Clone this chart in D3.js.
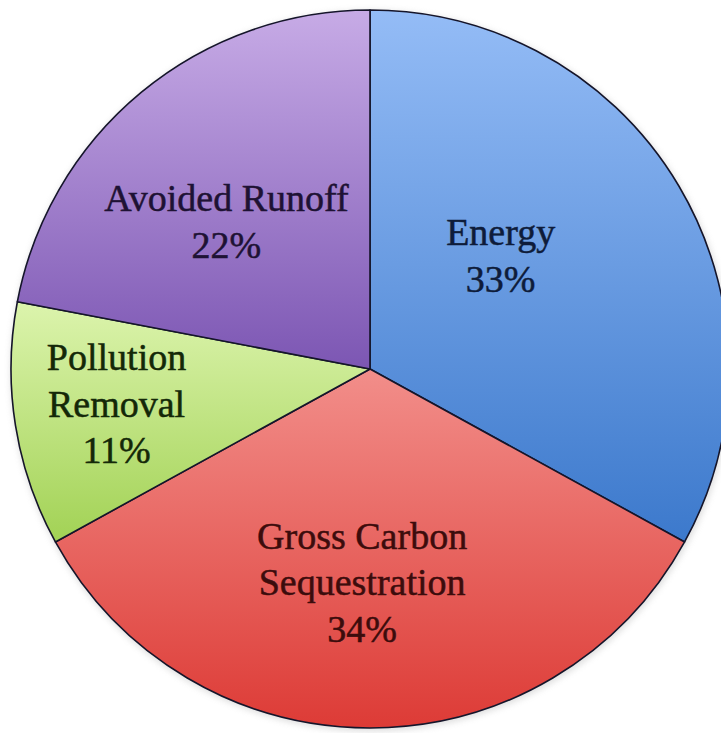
<!DOCTYPE html>
<html>
<head>
<meta charset="utf-8">
<script src="https://cdn.jsdelivr.net/npm/d3@7"></script>
<style>
  html, body { margin: 0; padding: 0; background: #ffffff; }
  svg { display: block; }
</style>
</head>
<body>
<div id="chart"></div>
<script>
// Ecosystem service value shares
const categories = ["Energy", "Gross Carbon Sequestration", "Pollution Removal", "Avoided Runoff"];
const shares = [33, 34, 11, 22];
// Label text lines per slice
const labelLines = [
  ["Energy"],
  ["Gross Carbon", "Sequestration"],
  ["Pollution", "Removal"],
  ["Avoided Runoff"]
];

// Styling: vertical gradient stops (top, bottom) and label ink per slice
const gradTop    = ["#94bcf6", "#f28e8a", "#dcf4ad", "#c7abe6"];
const gradBottom = ["#3c79cc", "#dd3b36", "#a2d255", "#7c56b3"];
const labelInk   = ["#0e1c3a", "#3c0c0c", "#142808", "#1e1234"];
// First-baseline anchor of each label, in units of the radius from the centre
const labelAnchor = [[0.364, -0.345], [-0.022, 0.500], [-0.706, 0.003], [-0.40, -0.44]];

const W = 721, H = 733;
const cx = 370, cy = 369, R = 359;
const fontSize = 38, lineGap = 46.5;

const svg = d3.select("#chart").append("svg")
  .attr("width", W).attr("height", H);

const defs = svg.append("defs");
categories.forEach((c, i) => {
  const g = defs.append("linearGradient")
    .attr("id", "grad" + i)
    .attr("x1", 0).attr("y1", 0).attr("x2", 0).attr("y2", 1);
  g.append("stop").attr("offset", "0%").attr("stop-color", gradTop[i]);
  g.append("stop").attr("offset", "100%").attr("stop-color", gradBottom[i]);
});
const shadow = defs.append("filter").attr("id", "soft")
  .attr("x", "-10%").attr("y", "-10%").attr("width", "120%").attr("height", "120%");
shadow.append("feGaussianBlur").attr("stdDeviation", 3);

const data = categories.map((c, i) => ({ name: c, value: shares[i], idx: i }));

const pie = d3.pie().value(d => d.value).sort(null);
const arc = d3.arc().innerRadius(0).outerRadius(R);

const g = svg.append("g").attr("transform", `translate(${cx},${cy})`);

// faint halo around the disc
g.append("circle")
  .attr("r", R + 1.5)
  .attr("cx", 1).attr("cy", 2)
  .attr("fill", "#b8b8b8")
  .attr("opacity", 0.45)
  .attr("filter", "url(#soft)");

g.selectAll("path.slice")
  .data(pie(data))
  .join("path")
  .attr("class", "slice")
  .attr("d", arc)
  .attr("fill", d => `url(#grad${d.data.idx})`)
  .attr("stroke", "#15152a")
  .attr("stroke-width", 1.6)
  .attr("stroke-linejoin", "round");

// labels: name lines plus percentage
const labels = g.selectAll("text.lbl")
  .data(pie(data))
  .join("text")
  .attr("class", "lbl")
  .attr("text-anchor", "middle")
  .attr("font-family", "'Liberation Serif', 'DejaVu Serif', serif")
  .attr("font-size", fontSize)
  .attr("fill", d => labelInk[d.data.idx])
  .attr("stroke", d => labelInk[d.data.idx])
  .attr("stroke-width", 0.5);

labels.each(function(d) {
  const i = d.data.idx;
  const x = labelAnchor[i][0] * R;
  const y = labelAnchor[i][1] * R;
  const lines = labelLines[i].concat([d.data.value + "%"]);
  const t = d3.select(this);
  lines.forEach((ln, k) => {
    t.append("tspan")
      .attr("x", x)
      .attr("y", y + k * lineGap)
      .text(ln);
  });
});
</script>
</body>
</html>
